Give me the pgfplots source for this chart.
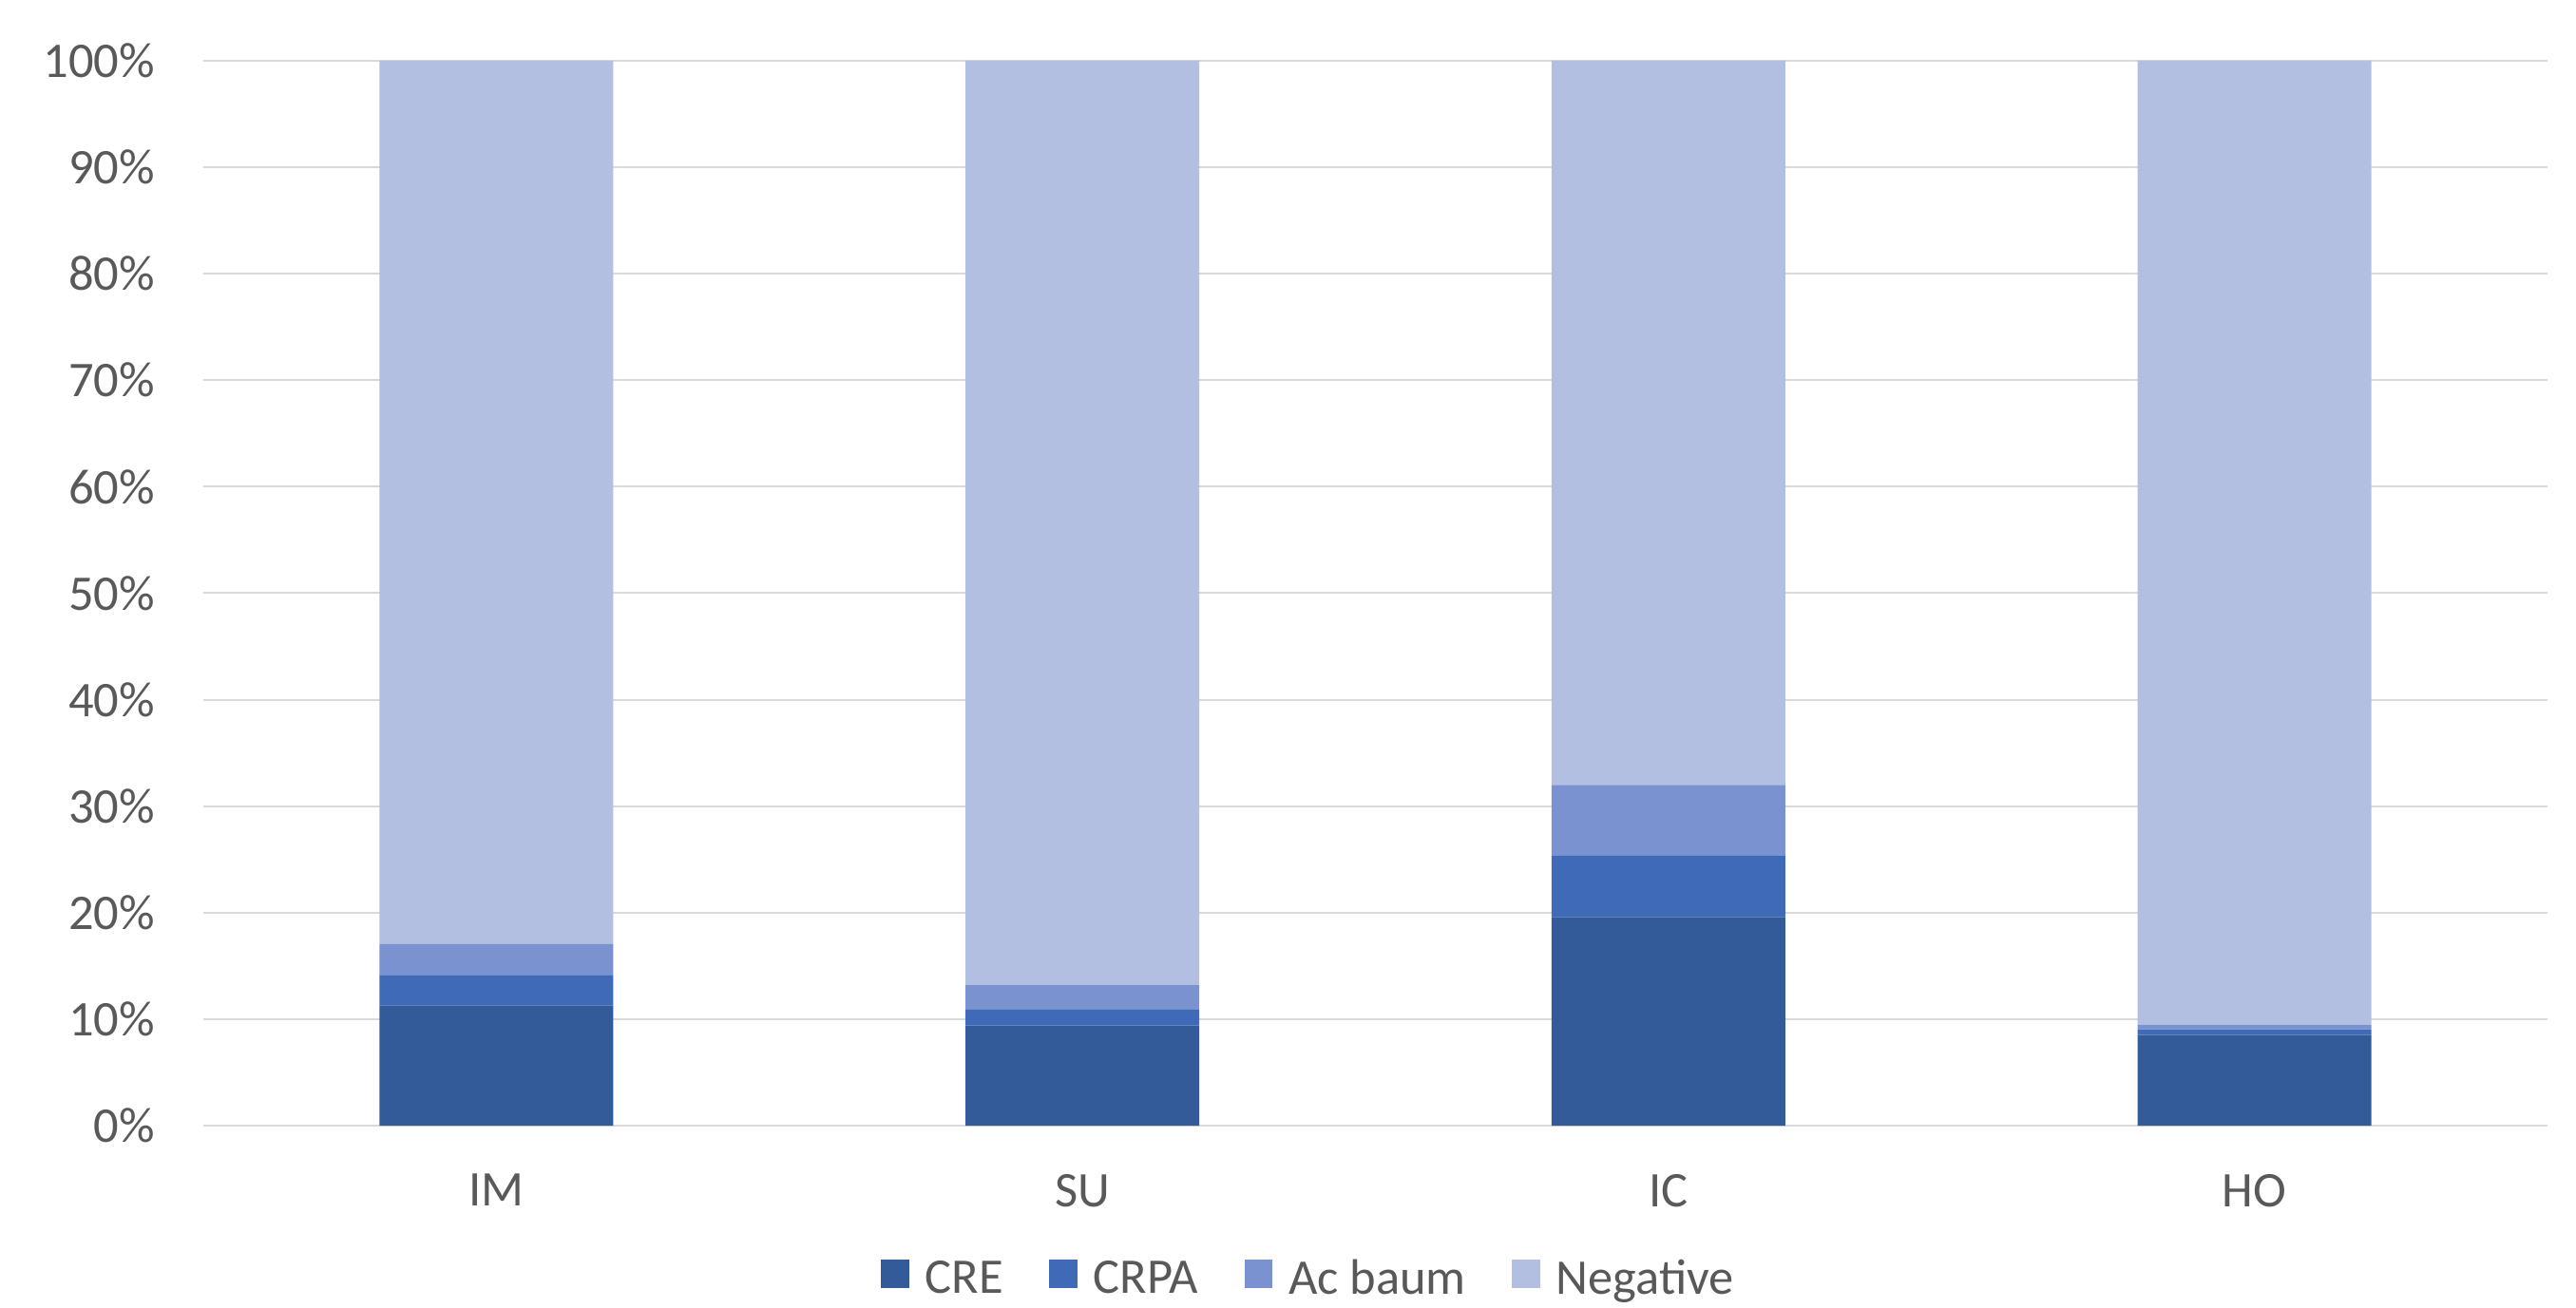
\documentclass[border=0pt]{standalone}
\usepackage{pgfplots}
\pgfplotsset{compat=1.18}
\usepackage{fontspec}
\setmainfont{Carlito}
\definecolor{cre}{HTML}{335A99}
\definecolor{crpa}{HTML}{3E6AB8}
\definecolor{acb}{HTML}{7A93D0}
\definecolor{neg}{HTML}{B3BFE0}
\definecolor{txt}{HTML}{595959}
\definecolor{grid}{HTML}{D9D9D9}
\begin{document}
\fontsize{10.5pt}{12.6pt}\selectfont
\begin{tikzpicture}
\useasboundingbox (-42.8pt,-38.2pt) rectangle (499.4pt,237pt);
\begin{axis}[
  at={(0,0)}, anchor=south west,
  scale only axis,
  width=493.4pt, height=224.2pt,
  ybar stacked,
  bar width=49.2pt,
  xmin=-0.5, xmax=3.5,
  ymin=0, ymax=100,
  xtick=data,
  xticklabels={IM,SU,IC,HO},
  ytick={0,10,...,100},
  yticklabel={\pgfmathprintnumber{\tick}\%},
  /pgf/number format/assume math mode=true,
  major tick length=0pt,
  axis line style={draw=none},
  axis x line*=bottom,
  axis y line*=left,
  ymajorgrids,
  grid style={draw=grid, line width=0.4pt},
  y tick label style={inner sep=0pt, xshift=-10pt, text=txt, anchor=east},
  x tick label style={inner sep=0pt, yshift=-10pt, text=txt, anchor=north},
  legend columns=4,
  legend style={draw=none, inner sep=0pt, at={(rel axis cs:0.5,0)}, anchor=north, yshift=-26pt, xshift=-13.3pt, font=\color{txt},
    /tikz/every odd column/.append style={column sep=1.4pt},
    /tikz/every even column/.append style={column sep=7.7pt}},
  legend image code/.code={\fill[#1] (0pt,-1.5pt) rectangle (5.9pt,4.4pt);},
  legend cell align=left,
]
\addplot[fill=cre, draw=none] coordinates {(0,11.3) (1,9.4) (2,19.6) (3,8.5)};
\addplot[fill=crpa, draw=none] coordinates {(0,2.8) (1,1.55) (2,5.8) (3,0.55)};
\addplot[fill=acb, draw=none] coordinates {(0,2.95) (1,2.25) (2,6.6) (3,0.45)};
\addplot[fill=neg, draw=none] coordinates {(0,82.95) (1,86.8) (2,68.0) (3,90.5)};
\draw[grid, line width=0.4pt] (rel axis cs:0,0) -- (rel axis cs:1,0);
\legend{CRE,CRPA,Ac baum,Negative}
\end{axis}
\end{tikzpicture}
\end{document}
